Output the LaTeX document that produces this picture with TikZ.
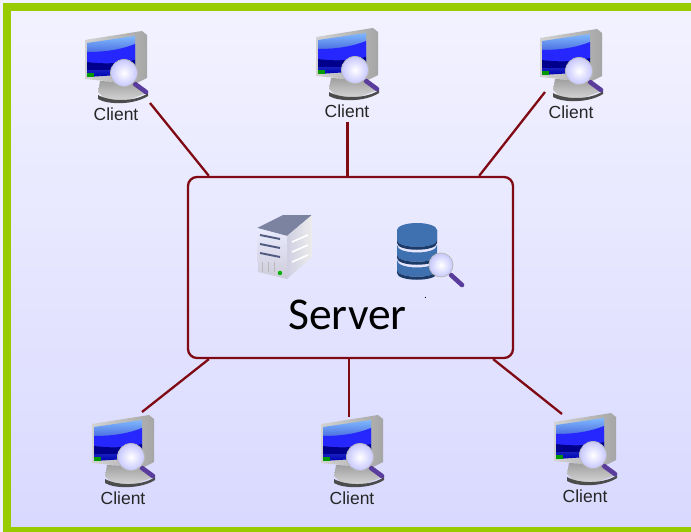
\documentclass[tikz,border=0pt]{standalone}
\usepackage{fontspec}
\setmainfont{Liberation Sans}
\newfontfamily\serverfont{Carlito}

\definecolor{Frame}{HTML}{99CC00}
\definecolor{Link}{HTML}{800A14}
\definecolor{Handle}{HTML}{5A3C9C}
\definecolor{Disc}{HTML}{3F70B0}
\definecolor{DiscLight}{HTML}{5C90DC}
\definecolor{DiscDark}{HTML}{1C3A68}
\definecolor{Slot}{HTML}{505A80}

\tikzset{
    link/.style={draw=Link,line width=2.3pt},
    lens/.style={draw=gray!55,line width=.8pt,inner color=white,outer color=blue!22},
    grip/.style={draw=Handle,line width=4.6pt,line cap=round},
    clientlabel/.style={font=\fontsize{17.5}{20}\selectfont,inner sep=0pt,text=black!85},
    client/.pic={
        \shade[left color=gray!35,right color=gray!70] (-31,-74) -- (26,-83) -- (31,-79) -- (31,-36) -- (19,-30) -- (-31,-35) -- cycle;
        \shade[top color=gray!75,bottom color=gray!35] (-16,-33) -- (20,-31) -- (31,-21) -- (12,-14) -- (-10,-14) -- (-18,-22) -- cycle;
        \fill[black!70] (-18,-19) .. controls (-6,-12) and (20,-12) .. (32,-21) -- (32,-18) .. controls (18,-9) and (-8,-9) .. (-18,-15) -- cycle;
        \shade[top color=blue!55!cyan!50,bottom color=blue!70!black] (-29,-71) -- (19,-78) -- (19,-40) -- (-29,-37) -- cycle;
        \fill[blue!85!white] (-29,-62) .. controls (-12,-62) and (4,-64) .. (19,-70) -- (19,-54) .. controls (4,-50) and (-14,-50) .. (-29,-52) -- cycle;
        \fill[blue!55!black] (-29,-52) .. controls (-14,-50) and (2,-50) .. (19,-54) -- (19,-46) .. controls (4,-44) and (-14,-44) .. (-29,-44) -- cycle;
        \fill[green!60!black] (-29,-41) rectangle (-22,-37);
        \draw[grip] (19,-30) -- (30,-22);
        \draw[lens] (8,-41) circle (13.5);
    },
    tower/.pic={
        \fill[Slot!75] (1,-48) -- (27,-61) -- (56,-61) -- (31,-40) -- cycle;
        \shade[left color=blue!25!gray!30,right color=gray!15] (31,-40) -- (56,-61) -- (56,-19) -- (31,3) -- cycle;
        \shade[top color=blue!8,bottom color=blue!15!gray!35] (1,-48) -- (31,-40) -- (31,3) -- (2,-4) -- cycle;
        \foreach \y in {-39,-30,-21}
            \draw[line width=1.9pt,Slot] (4,\y-2) -- (24,\y+2);
        \foreach \y in {-34,-24,-14}
            \draw[line width=1.6pt,white] (36,\y) -- (52,\y-7);
        \foreach \x in {6,12,18}
            \draw[line width=1pt,gray!55] (\x,-14) -- (\x,-4);
        \fill[green!70!black] (24,-3) circle (2.2);
    },
    database/.pic={
        \foreach \y in {-18,-33,-48}{
            \shade[left color=Disc,middle color=DiscLight,right color=Disc] (-20,\y-10) -- (-20,\y) .. controls (-20,\y+9) and (20,\y+9) .. (20,\y) -- (20,\y-10) .. controls (20,\y) and (-20,\y) .. (-20,\y-10) -- cycle;
            \fill[DiscDark] (-20,\y) .. controls (-20,\y+9) and (20,\y+9) .. (20,\y) -- (20,\y+3) .. controls (20,\y+12) and (-20,\y+12) .. (-20,\y+3) -- cycle;
        }
        \shade[left color=Disc,middle color=DiscLight,right color=Disc] (-20,-58) -- (-20,-48) .. controls (-20,-39) and (20,-39) .. (20,-48) -- (20,-58) -- cycle;
        \fill[Disc] (0,-58) ellipse (20 and 7);
        \draw[grip] (34,-13) -- (45,-3);
        \draw[lens] (24,-23) circle (12);
    }
}

\begin{document}
\begin{tikzpicture}[x=1pt,y=-1pt]
    \useasboundingbox (0,0) rectangle (691,532);
    \fill[white!95!blue] (0,0) rectangle (691,532);
    \shade[top color=blue!5,bottom color=blue!15!white] (7,7) rectangle (691,528);
    \fill[Frame] (3,3) rectangle (691,11);
    \fill[Frame] (3,3) rectangle (11,532);
    \fill[Frame] (3,527) rectangle (691,532);

    \node[draw=Link,line width=2.3pt,rounded corners=9pt,minimum width=325pt,minimum height=181pt,inner sep=0pt] (server) at (350.5,267.5) {};
    \node[font=\serverfont\fontsize{45.5}{48}\selectfont,inner sep=0pt] (servertext) at (347.5,315) {Server};

    \pic at (256,276) {tower};
    \pic at (417,288) {database};
    \fill (425.5,297.5) circle (.6);

    \foreach \name/\x/\y in {clientA/116/114,clientB/347/111,clientC/571/112,clientD/123/498,clientE/352/498,clientF/585/496}{
        \pic at (\x,\y) {client};
        \node[clientlabel] (\name) at (\x,\y) {Client};
    }

    \draw[link] ([xshift=22pt]server.north west) -- ([shift={(34,-11)}]clientA.center);
    \draw[link] ([xshift=-3pt]server.north) -- ([shift={(.5,11)}]clientB.center);
    \draw[link] ([xshift=-35pt]server.north east) -- ([shift={(-26,-20)}]clientC.center);
    \draw[link] ([xshift=22pt]server.south west) -- ([shift={(19,-86)}]clientD.center);
    \draw[link] ([xshift=-1.5pt]server.south) -- ([shift={(-3,-81)}]clientE.center);
    \draw[link] ([xshift=-21pt]server.south east) -- ([shift={(-23,-82)}]clientF.center);
\end{tikzpicture}
\end{document}
